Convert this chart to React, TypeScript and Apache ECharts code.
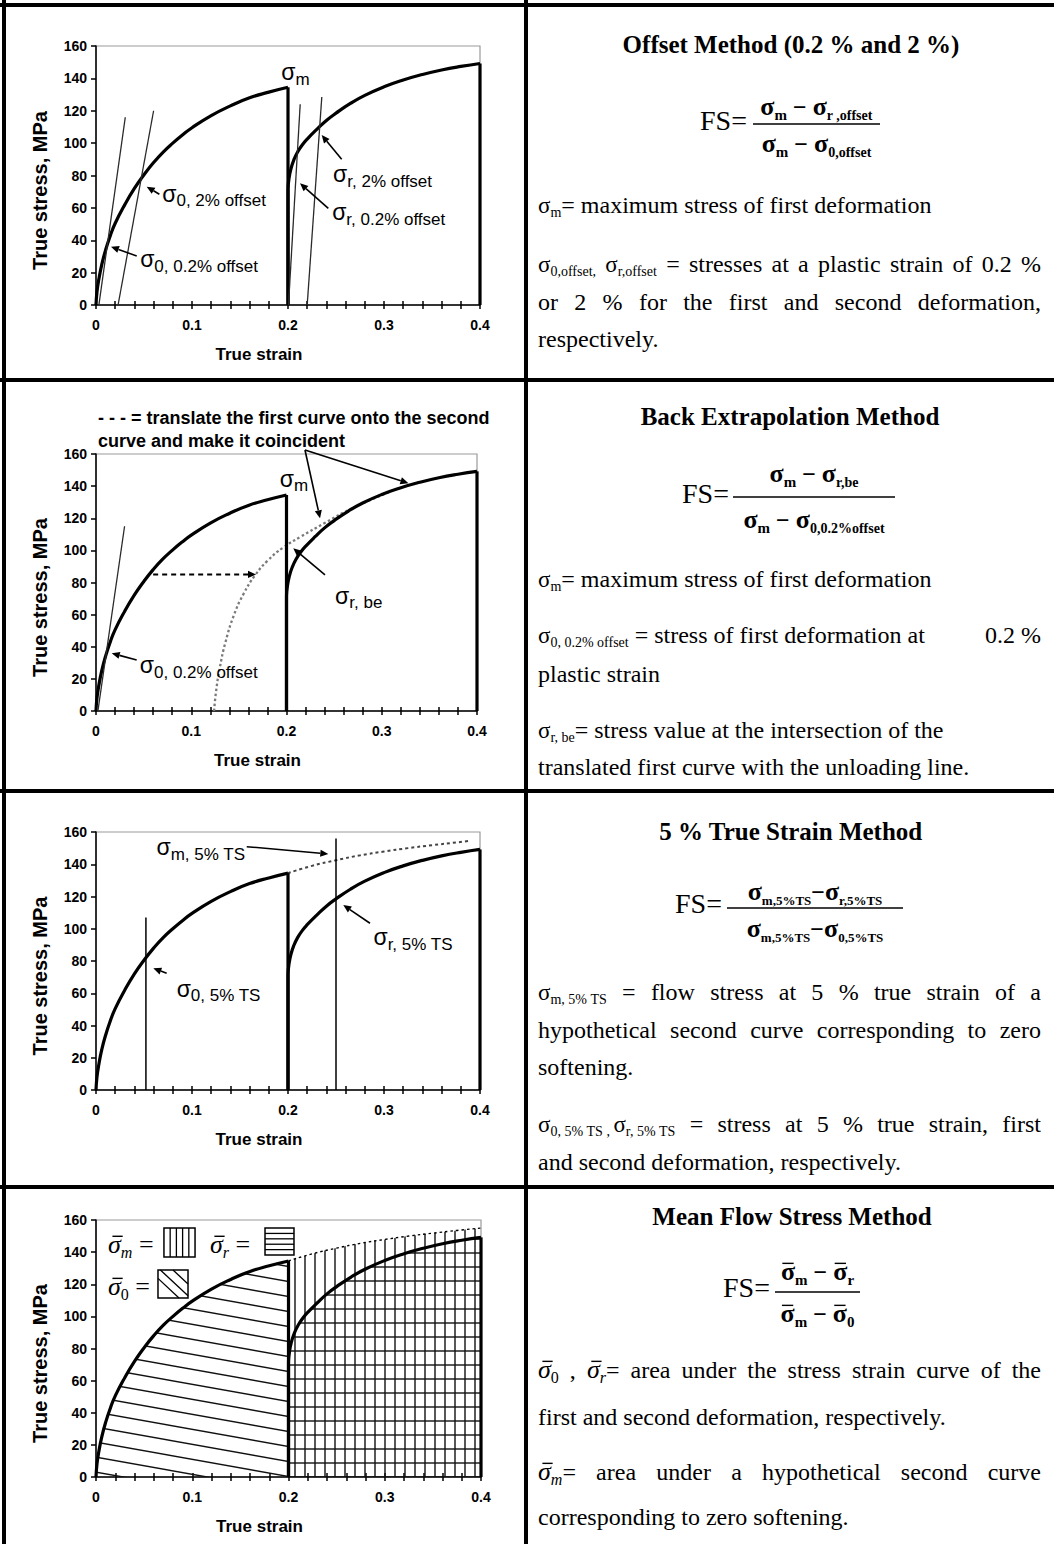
import React, { useEffect, useRef } from 'react';
import * as echarts from 'echarts';

const PAGE_W = 1054;
const PAGE_H = 1544;
const SANS = '"Liberation Sans", Arial, Helvetica, sans-serif';
const SERIF = '"Liberation Serif", "Times New Roman", Times, serif';
// distance from the alphabetic baseline up to the SVG "central" baseline, in em
const MID = 0.34;

// ---- axes ----
const strainRange = [0, 0.4];
const strainStep = 0.1;
const strainMinorSplit = 5;
const stressRange = [0, 160];
const stressStep = 20;

// ---- flow curves (true strain, true stress in MPa) ----
const firstStrain = [0, 0.001, 0.003, 0.006, 0.01, 0.015, 0.02, 0.03, 0.04, 0.05, 0.06, 0.07, 0.08, 0.09, 0.1, 0.12, 0.14, 0.16, 0.18, 0.2];
const firstStress = [0, 8, 16, 25, 34, 43, 50.5, 62, 72, 80.5, 88, 94.5, 100, 105, 109.5, 117, 123, 128, 131.5, 134.5];

const secondStrain = [0.2, 0.201, 0.203, 0.206, 0.21, 0.215, 0.22, 0.23, 0.24, 0.25, 0.265, 0.28, 0.3, 0.32, 0.34, 0.36, 0.38, 0.4];
const secondStress = [72, 78, 84, 89.5, 94.5, 99, 102.5, 108.5, 114, 118.5, 124.5, 129.5, 134.8, 139, 142.4, 145.2, 147.4, 149.2];

// hypothetical second curve for zero softening
const zeroSoftStrain = [0.2, 0.225, 0.25, 0.275, 0.3, 0.325, 0.35, 0.375, 0.4];
const zeroSoftStress = [134.5, 139, 142.5, 145.5, 147.9, 150, 151.8, 153.5, 155];

// first curve translated onto the second one (back extrapolation)
const shiftedStrain = [0.124, 0.126, 0.13, 0.136, 0.145, 0.155, 0.167, 0.18, 0.197, 0.215, 0.24, 0.27, 0.31];
const shiftedStress = [0, 12, 27, 43, 60, 73, 84.5, 93.5, 102, 108.5, 117, 126.5, 136.7];

// construction lines, [strain, stress] end points
const offsetFirst02 = [[0.003, 0], [0.0305, 116]];
const offsetFirst2 = [[0.023, 0], [0.06, 120]];
const offsetSecond02 = [[0.2005, 0], [0.2127, 124]];
const offsetSecond2 = [[0.22, 0], [0.2352, 128.5]];
const backElastic = [[0.002, 0], [0.03, 115]];
const firstAt5 = [[0.052, 0], [0.052, 107]];
const secondAt5 = [[0.25, 0], [0.25, 156]];

// ---- annotations inside the plots: [panel, strain, stress, subscript] ----
const sigmaLabels: [number, number, number, string][] = [
  [0, 0.193, 139, 'm'],
  [0, 0.069, 64, '0, 2% offset'],
  [0, 0.046, 23.5, '0, 0.2% offset'],
  [0, 0.247, 76, 'r, 2% offset'],
  [0, 0.246, 52.5, 'r, 0.2% offset'],
  [1, 0.193, 139.6, 'm'],
  [1, 0.251, 67, 'r, be'],
  [1, 0.046, 23.7, '0, 0.2% offset'],
  [2, 0.063, 145.7, 'm, 5% TS'],
  [2, 0.289, 90, 'r, 5% TS'],
  [2, 0.084, 58, '0, 5% TS'],
];
// [panel, from, to, dashed]
const arrowNotes: [number, number[], number[], boolean][] = [
  [0, [0.066, 68.4], [0.0528, 73.1], false],
  [0, [0.0424, 30.3], [0.0156, 36], false],
  [0, [0.2559, 90], [0.2351, 105], false],
  [0, [0.242, 59.7], [0.2125, 75.2], false],
  [1, [0.2194, 162.5], [0.2352, 120], false],
  [1, [0.2194, 162.5], [0.328, 141.8], false],
  [1, [0.2404, 84.7], [0.2071, 101.3], false],
  [1, [0.0427, 31.8], [0.0165, 35.9], false],
  [1, [0.06, 85], [0.168, 85], true],
  [2, [0.157, 150.9], [0.242, 146.4], false],
  [2, [0.2854, 103.4], [0.2576, 114.7], false],
  [2, [0.0736, 72.4], [0.0597, 75.5], false],
];
const backNote = ['- - - = translate the first curve onto the second', 'curve and make it coincident'];
const backNoteAt = [[0.0021, 178.7], [0.0021, 164.4]];

// ---- layout ----
const plotBoxes = [
  { left: 96, top: 46, width: 384, height: 259 },
  { left: 96, top: 454, width: 381, height: 257 },
  { left: 96, top: 832, width: 384, height: 258 },
  { left: 96, top: 1220, width: 385, height: 257 },
];
const ruleRows = [5, 380, 791, 1187];
const ruleCol = 526;
const TEXT_L = 538;
const TEXT_R = 1041;

type Seg = { t: string; s: number; b?: boolean; i?: boolean; sans?: boolean; dy?: number; over?: boolean };
const NB = '\u00a0';
const T = (t: string, s = 24): Seg => ({ t, s });
const B = (t: string, s: number, dy = 0, over = false): Seg => ({ t, s, b: true, dy, over });
const sg = (sub: string): Seg[] => [{ t: 'σ', s: 23 }, { t: sub, s: 14, dy: 4 }];
const sgBar = (sub: string): Seg[] => [{ t: 'σ', s: 26, i: true, over: true }, { t: sub, s: 16, i: sub !== '0', dy: 5 }];

const methodTitles = ['Offset Method (0.2 % and 2 %)', 'Back Extrapolation Method', '5 % True Strain Method', 'Mean Flow Stress Method'];
const titleAt = [[791, 53], [790, 425], [791, 840], [792, 1225]];

const formulas = [
  {
    fs: [700, 130], bar: [753, 880, 124], numY: 115, denY: 152,
    num: [B('σ', 26), B('m', 15, 5), B(' − ', 24), B('σ', 26), B('r ,offset', 14, 5)],
    den: [B('σ', 26), B('m', 15, 5), B(' − ', 24), B('σ', 26), B('0,offset', 14, 5)],
  },
  {
    fs: [682, 503], bar: [733, 895, 497], numY: 482, denY: 528,
    num: [B('σ', 26), B('m', 15, 5), B(' − ', 24), B('σ', 26), B('r,be', 14, 5)],
    den: [B('σ', 26), B('m', 15, 5), B(' − ', 24), B('σ', 26), B('0,0.2%offset', 14, 5)],
  },
  {
    fs: [675, 913], bar: [727, 903, 908], numY: 900, denY: 937,
    num: [B('σ', 26), B('m,5%TS', 13, 5), B('−', 24), B('σ', 26), B('r,5%TS', 13, 5)],
    den: [B('σ', 26), B('m,5%TS', 13, 5), B('−', 24), B('σ', 26), B('0,5%TS', 13, 5)],
  },
  {
    fs: [723, 1297], bar: [775, 860, 1292], numY: 1280, denY: 1322,
    num: [B('σ', 26, 0, true), B('m', 15, 5), B(' − ', 24), B('σ', 26, 0, true), B('r', 15, 5)],
    den: [B('σ', 26, 0, true), B('m', 15, 5), B(' − ', 24), B('σ', 26, 0, true), B('0', 15, 5)],
  },
];

const bodyLines: { y: number; segs: Seg[]; just?: boolean; right?: Seg[] }[] = [
  { y: 213, segs: [...sg('m'), T('= maximum stress of first deformation')] },
  { y: 272, just: true, segs: [...sg('0,offset,'), T(' '), ...sg('r,offset'), T(' = stresses at a plastic strain of 0.2 %')] },
  { y: 310, just: true, segs: [T('or 2 % for the first and second deformation,')] },
  { y: 347, segs: [T('respectively.')] },
  { y: 587, segs: [...sg('m'), T('= maximum stress of first deformation')] },
  { y: 643, segs: [...sg('0, 0.2% offset'), T(' = stress of first deformation at')], right: [T('0.2 %')] },
  { y: 682, segs: [T('plastic strain')] },
  { y: 738, segs: [...sg('r, be'), T('= stress value at the intersection of the')] },
  { y: 775, segs: [T('translated first curve with the unloading line.')] },
  { y: 1000, just: true, segs: [...sg(`m,${NB}5%${NB}TS`), T(' = flow stress at 5 % true strain of a')] },
  { y: 1038, just: true, segs: [T('hypothetical second curve corresponding to zero')] },
  { y: 1075, segs: [T('softening.')] },
  { y: 1132, just: true, segs: [...sg(`0,${NB}5%${NB}TS${NB},${NB}`), ...sg(`r,${NB}5%${NB}TS`), T(' = stress at 5 % true strain, first')] },
  { y: 1170, segs: [T('and second deformation, respectively.')] },
  { y: 1378, just: true, segs: [...sgBar('0'), T(' , '), ...sgBar('r'), T('= area under the stress strain curve of the')] },
  { y: 1425, segs: [T('first and second deformation, respectively.')] },
  { y: 1480, just: true, segs: [...sgBar('m'), T('= area under a hypothetical second curve')] },
  { y: 1525, segs: [T('corresponding to zero softening.')] },
];

// key of the mean flow stress panel: subscript, label anchor, box corners, hatch kind
const areaKeys: { sub: string; at: number[]; box: number[]; fill: 'v' | 'h' | 'd' }[] = [
  { sub: 'm', at: [0.0125, 139.5], box: [0.0706, 155, 0.1029, 137], fill: 'v' },
  { sub: 'r', at: [0.1184, 139.5], box: [0.1756, 155, 0.2057, 138.2], fill: 'h' },
  { sub: '0', at: [0.0125, 113.3], box: [0.0644, 128.9, 0.0956, 111.4], fill: 'd' },
];

// ---- helpers ----
const zip = (xs: number[], ys: number[]) => xs.map((x, i) => [x, ys[i]]);
const last = (a: number[]) => a[a.length - 1];

let measureCtx: CanvasRenderingContext2D | null = null;
function fontOf(g: Seg) {
  return `${g.i ? 'italic ' : ''}${g.b ? 'bold ' : ''}${g.s}px ${g.sans ? SANS : SERIF}`;
}
function widthOf(g: Seg) {
  if (!measureCtx) measureCtx = document.createElement('canvas').getContext('2d');
  measureCtx!.font = fontOf(g);
  return measureCtx!.measureText(g.t).width;
}
const segsWidth = (segs: Seg[]) => segs.reduce((a, g) => a + widthOf(g), 0);

function drawSegs(out: any[], segs: Seg[], x: number, base: number) {
  for (const g of segs) {
    const w = widthOf(g);
    out.push({
      type: 'text', x, y: base + (g.dy || 0) - MID * g.s, silent: true, z: 20,
      style: {
        text: g.t, fontSize: g.s, fontFamily: g.sans ? SANS : SERIF,
        fontWeight: g.b ? 'bold' : 'normal', fontStyle: g.i ? 'italic' : 'normal',
        fill: '#000', align: 'left', verticalAlign: 'middle',
      },
    });
    if (g.over) {
      const oy = base + (g.dy || 0) - 0.64 * g.s;
      const sh = g.i ? 0.12 * g.s : 0;
      out.push({ type: 'line', silent: true, z: 20, shape: { x1: x + 0.1 * w + sh, y1: oy, x2: x + 0.9 * w + sh, y2: oy }, style: { stroke: '#000', lineWidth: 1.4 } });
    }
    x += w;
  }
  return x;
}

function splitWords(segs: Seg[]): Seg[][] {
  const words: Seg[][] = [];
  let cur: Seg[] = [];
  for (const g of segs) {
    g.t.split(' ').forEach((part, j) => {
      if (j > 0 && cur.length) { words.push(cur); cur = []; }
      if (part) cur.push({ ...g, t: part });
    });
  }
  if (cur.length) words.push(cur);
  return words;
}

function drawJustified(out: any[], segs: Seg[], x0: number, x1: number, base: number) {
  const words = splitWords(segs);
  const total = words.reduce((a, w) => a + segsWidth(w), 0);
  const gap = words.length > 1 ? (x1 - x0 - total) / (words.length - 1) : 0;
  let x = x0;
  for (const w of words) x = drawSegs(out, w, x, base) + gap;
}

function arrow(out: any[], a: number[], b: number[], dashed: boolean) {
  const dx = b[0] - a[0], dy = b[1] - a[1];
  const len = Math.hypot(dx, dy) || 1;
  const ux = dx / len, uy = dy / len;
  const hl = 8, hw = 3.6;
  const bx = b[0] - ux * hl, by = b[1] - uy * hl;
  out.push({
    type: 'line', silent: true, z: 15,
    shape: { x1: a[0], y1: a[1], x2: bx, y2: by },
    style: { stroke: '#000', lineWidth: dashed ? 2 : 1.6, lineDash: dashed ? [5, 4] : null },
  });
  out.push({
    type: 'polygon', silent: true, z: 15,
    shape: { points: [[b[0], b[1]], [bx - uy * hw, by + ux * hw], [bx + uy * hw, by - ux * hw]] },
    style: { fill: '#000' },
  });
}

function hatch(w: number, h: number, lines: number[][]) {
  const c = document.createElement('canvas');
  c.width = w;
  c.height = h;
  const g = c.getContext('2d')!;
  g.strokeStyle = '#111';
  g.lineWidth = 1.4;
  for (const [x1, y1, x2, y2] of lines) {
    g.beginPath();
    g.moveTo(x1, y1);
    g.lineTo(x2, y2);
    g.stroke();
  }
  return { image: c, repeat: 'repeat' };
}

const THICK = { color: '#000', width: 3.2 };
const THIN = { color: '#2a2a2a', width: 1.3 };
const SMOOTH = 0.5;

function line(p: number, data: number[][], lineStyle: any, extra: any = {}) {
  return {
    type: 'line', xAxisIndex: 2 * p, yAxisIndex: p, data, symbol: 'none', showSymbol: false,
    silent: true, clip: false, emphasis: { disabled: true }, lineStyle, ...extra,
  };
}

function flowCurves(p: number, fills: { first: any; second: any } | null) {
  return [
    line(p, zip(firstStrain, firstStress), THICK, { smooth: SMOOTH, ...(fills ? { areaStyle: { color: fills.first, opacity: 1 } } : {}) }),
    line(p, [[last(firstStrain), last(firstStress)], [last(firstStrain), 0]], THICK),
    line(p, [[secondStrain[0], 0], [secondStrain[0], secondStress[0]]], THICK),
    line(p, zip(secondStrain, secondStress), THICK, { smooth: SMOOTH, ...(fills ? { areaStyle: { color: fills.second, opacity: 1 } } : {}) }),
    line(p, [[last(secondStrain), last(secondStress)], [last(secondStrain), 0]], THICK),
  ];
}

function buildOption() {
  const vHatch = hatch(10, 10, [[5, -1, 5, 11]]);
  const hHatch = hatch(10, 14, [[-1, 7, 11, 7]]);
  const k = 15 / 84;
  const dHatch = hatch(84, 15, [-1, 0, 1].map((n) => [-6, -6 * k + 15 * n, 90, 90 * k + 15 * n]));

  const tickStyle = { color: '#000', width: 1.5 };
  const xAxis: any[] = [];
  plotBoxes.forEach((_, p) => {
    xAxis.push({
      type: 'value', gridIndex: p, position: 'bottom', min: strainRange[0], max: strainRange[1], interval: strainStep,
      axisLine: { onZero: false, lineStyle: { color: '#000', width: 1.5 } },
      axisTick: { show: true, length: 4, lineStyle: tickStyle },
      minorTick: { show: true, splitNumber: strainMinorSplit, length: 4, lineStyle: tickStyle },
      axisLabel: { color: '#000', fontFamily: SANS, fontWeight: 'bold', fontSize: 14, margin: 13 },
      splitLine: { show: false }, minorSplitLine: { show: false },
      name: 'True strain', nameLocation: 'middle', nameGap: 41,
      nameTextStyle: { color: '#000', fontFamily: SANS, fontWeight: 'bold', fontSize: 17, padding: [0, 58, 0, 0] },
    });
    xAxis.push({
      type: 'value', gridIndex: p, position: 'bottom', min: strainRange[0], max: strainRange[1], interval: strainStep,
      axisLine: { show: false, onZero: false },
      axisTick: { show: true, inside: true, length: 4, lineStyle: tickStyle },
      minorTick: { show: true, splitNumber: strainMinorSplit, length: 4, lineStyle: tickStyle },
      axisLabel: { show: false }, splitLine: { show: false }, minorSplitLine: { show: false },
    });
  });

  const yAxis = plotBoxes.map((_, p) => ({
    type: 'value', gridIndex: p, min: stressRange[0], max: stressRange[1], interval: stressStep,
    axisLine: { show: true, onZero: false, lineStyle: { color: '#000', width: 1.5 } },
    axisTick: { show: true, length: 5, lineStyle: tickStyle },
    axisLabel: { color: '#000', fontFamily: SANS, fontWeight: 'bold', fontSize: 14, margin: 9 },
    splitLine: { show: false },
    name: 'True stress, MPa', nameLocation: 'middle', nameGap: 46,
    nameTextStyle: { color: '#000', fontFamily: SANS, fontWeight: 'bold', fontSize: 20, padding: [0, 30, 0, 0] },
  }));

  const series: any[] = [];
  // offset method
  series.push(...flowCurves(0, null));
  [offsetFirst02, offsetFirst2, offsetSecond02, offsetSecond2].forEach((d) => series.push(line(0, d, THIN)));
  // back extrapolation
  series.push(line(1, zip(shiftedStrain, shiftedStress), { color: '#7a7a7a', width: 2.3, type: [2.5, 2.5] }, { smooth: SMOOTH }));
  series.push(...flowCurves(1, null));
  series.push(line(1, backElastic, THIN));
  // 5 % true strain
  series.push(line(2, zip(zeroSoftStrain, zeroSoftStress).slice(0, -1).concat([[0.39, 154.6]]), { color: '#444', width: 2, type: [3, 3] }, { smooth: SMOOTH }));
  series.push(...flowCurves(2, null));
  series.push(line(2, firstAt5, { color: '#000', width: 1.5 }));
  series.push(line(2, secondAt5, { color: '#000', width: 1.5 }));
  // mean flow stress
  series.push(line(3, zip(zeroSoftStrain, zeroSoftStress), { color: '#000', width: 1.4, type: [2.5, 3] }, { smooth: SMOOTH, areaStyle: { color: vHatch, opacity: 1 } }));
  series.push(...flowCurves(3, { first: dHatch, second: hHatch }));

  return {
    animation: false,
    backgroundColor: '#fff',
    grid: plotBoxes.map((b) => ({ ...b, show: true, borderColor: '#9a9a9a', borderWidth: 1.2, backgroundColor: 'transparent' })),
    xAxis,
    yAxis,
    series,
  };
}

function buildGraphics(chart: any) {
  const out: any[] = [];
  const px = (p: number, v: number[]) => chart.convertToPixel({ xAxisIndex: 2 * p, yAxisIndex: p }, v) as number[];

  // table rules
  ruleRows.forEach((y) => out.push({ type: 'line', silent: true, z: 30, shape: { x1: 0, y1: y, x2: PAGE_W, y2: y }, style: { stroke: '#000', lineWidth: 4 } }));
  out.push({ type: 'line', silent: true, z: 30, shape: { x1: 4, y1: 0, x2: 4, y2: PAGE_H }, style: { stroke: '#000', lineWidth: 4 } });
  out.push({ type: 'line', silent: true, z: 30, shape: { x1: ruleCol, y1: 0, x2: ruleCol, y2: PAGE_H }, style: { stroke: '#000', lineWidth: 4 } });

  // plot annotations
  sigmaLabels.forEach(([p, x, y, sub]) => {
    const [lx, ly] = px(p, [x, y]);
    drawSegs(out, [{ t: 'σ', s: 23, sans: true }, { t: sub, s: 17, sans: true, dy: 5 }], lx, ly);
  });
  arrowNotes.forEach(([p, a, b, dashed]) => arrow(out, px(p, a), px(p, b), dashed));
  backNote.forEach((t, i) => {
    const [lx, ly] = px(1, backNoteAt[i]);
    drawSegs(out, [{ t, s: 18, b: true, sans: true }], lx, ly);
  });

  // mean flow stress key
  areaKeys.forEach((key) => {
    const [lx, ly] = px(3, key.at);
    drawSegs(out, [...sgBar(key.sub), T(' =', 26)], lx, ly);
    const [x0, y0] = px(3, [key.box[0], key.box[1]]);
    const [x1, y1] = px(3, [key.box[2], key.box[3]]);
    const w = x1 - x0, h = y1 - y0;
    out.push({ type: 'rect', silent: true, z: 20, shape: { x: x0, y: y0, width: w, height: h }, style: { fill: '#fff', stroke: '#000', lineWidth: 1.5 } });
    const seg = (a: number, b: number, c: number, d: number) => out.push({ type: 'line', silent: true, z: 21, shape: { x1: a, y1: b, x2: c, y2: d }, style: { stroke: '#000', lineWidth: 1.3 } });
    if (key.fill === 'v') [1, 2, 3, 4].forEach((i) => seg(x0 + (w * i) / 5, y0, x0 + (w * i) / 5, y1));
    if (key.fill === 'h') [1, 2, 3, 4].forEach((i) => seg(x0, y0 + (h * i) / 5, x1, y0 + (h * i) / 5));
    if (key.fill === 'd') {
      seg(x0, y0 + 0.3 * h, x1 - 0.3 * w, y1);
      seg(x0 + 0.08 * w, y0, x1, y1 - 0.08 * h);
      seg(x0 + 0.5 * w, y0, x1, y1 - 0.5 * h);
    }
  });

  // method descriptions
  methodTitles.forEach((t, i) => {
    const seg: Seg = { t, s: 25, b: true };
    drawSegs(out, [seg], titleAt[i][0] - widthOf(seg) / 2, titleAt[i][1]);
  });
  formulas.forEach((f) => {
    drawSegs(out, [T('FS=', 28)], f.fs[0], f.fs[1]);
    const cx = (f.bar[0] + f.bar[1]) / 2;
    drawSegs(out, f.num, cx - segsWidth(f.num) / 2, f.numY);
    drawSegs(out, f.den, cx - segsWidth(f.den) / 2, f.denY);
    out.push({ type: 'line', silent: true, z: 20, shape: { x1: f.bar[0], y1: f.bar[2], x2: f.bar[1], y2: f.bar[2] }, style: { stroke: '#000', lineWidth: 1.5 } });
  });
  bodyLines.forEach((ln) => {
    if (ln.just) drawJustified(out, ln.segs, TEXT_L, TEXT_R, ln.y);
    else drawSegs(out, ln.segs, TEXT_L, ln.y);
    if (ln.right) drawSegs(out, ln.right, TEXT_R - segsWidth(ln.right), ln.y);
  });

  return out;
}

export default function App() {
  const ref = useRef<HTMLDivElement>(null);
  useEffect(() => {
    document.body.style.margin = '0';
    const chart = echarts.init(ref.current!, null, { renderer: 'svg', width: PAGE_W, height: PAGE_H });
    chart.setOption(buildOption());
    chart.setOption({ graphic: buildGraphics(chart) });
    return () => chart.dispose();
  }, []);
  return <div ref={ref} style={{ width: PAGE_W, height: PAGE_H, background: '#fff' }} />;
}
